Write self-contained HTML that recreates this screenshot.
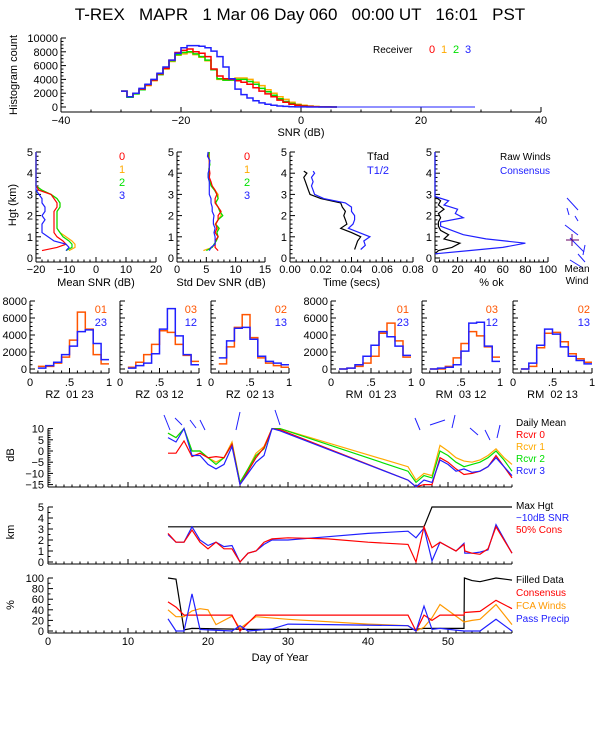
<!DOCTYPE html>
<html><head><meta charset="utf-8"><style>
html,body{margin:0;padding:0;background:#fff;}
svg{display:block;font-family:"Liberation Sans",sans-serif;}
</style></head><body>
<svg id="c" width="600" height="750" viewBox="0 0 600 750" xmlns="http://www.w3.org/2000/svg">
<rect x="0" y="0" width="600" height="750" fill="#fff"/>
</svg>
<script>
// ---------- data ----------
const snrBins=[-30,-29,-28,-27,-26,-25,-24,-23,-22,-21,-20,-19,-18,-17,-16,-15,-14,-13,-12,-11,-10,-9,-8,-7,-6,-5,-4,-3,-2,-1,0,1,2,3,4,5];
const histR0=[2300,1500,2000,2600,3200,3900,4800,5600,6800,7900,8200,8400,8000,7800,7300,5500,4500,4100,4000,3800,3600,3300,2800,2300,1900,1500,1000,700,400,250,150,80,40,20,10,0];
const histR1=[2300,1400,1900,2500,3100,3800,4700,5500,6600,7500,7700,7900,7600,7200,6700,5400,4000,3900,4100,4200,4200,4000,3600,3100,2500,2000,1500,1100,700,400,250,150,80,40,20,10];
const histR2=[2300,1400,1900,2500,3200,3900,4700,5600,6700,7600,7900,8000,7700,7300,6800,5400,4100,3900,3900,4000,4000,3700,3300,2700,2200,1700,1200,800,500,300,180,100,50,20,10,0];
const histR3=[2300,1500,2000,2700,3300,4000,4900,5800,6800,7800,8600,8900,8900,8800,8600,8100,7300,5800,4100,2600,1800,1300,900,600,400,250,150,80,40,20,10,0,0,0,0,0];

const hgt=[0.35,0.5,0.65,0.8,1.0,1.2,1.4,1.6,1.8,2.0,2.2,2.4,2.6,2.8,3.0,3.2,3.4,3.6,3.8,4.0,4.2,4.4,4.6,4.8,5.0];
const meanSnr0=[-18,-13,-10,-11,-13,-14,-14,-14,-14,-14,-14,-13,-13,-14,-15,-19,-20,-20,-20,-20,-20,-20,-20,-20,-20];
const meanSnr1=[-9,-7,-7,-8,-10,-12,-13,-13,-13,-13,-13,-12,-12,-13,-15,-18,-20,-20,-20,-20,-20,-20,-20,-20,-20];
const meanSnr2=[-10,-8,-8,-9,-11,-12,-13,-13,-13,-13,-13,-12,-12,-13,-15,-18,-20,-20,-20,-20,-20,-20,-20,-20,-20];
const meanSnr3=[-10,-9,-10,-14,-16,-18,-18,-18,-17,-18,-17,-17,-18,-18,-19,-20,-20,-20,-20,-20,-20,-20,-20,-20,-20];
const sdSnr0=[7,6.5,6.5,6.5,7,6.5,6.8,6.6,7,7,7.5,7,6.5,6.5,6.8,6.5,6,5.8,5.5,5.6,5.5,5.5,5.5,5.3,5.3];
const sdSnr1=[4.5,6,6.5,6.5,7,6.8,7,6.5,7,7.5,7.5,7,6.5,7,7,6.5,6,5.5,5.5,5.5,5.5,5.5,5.5,5.5,5.5];
const sdSnr2=[5,6,6.3,6.7,7,6.8,7.2,6.6,7,7.8,7.3,7,6.6,7,6.8,6.4,5.8,5.6,5.4,5.5,5.4,5.6,5.5,5.4,5.5];
const sdSnr3=[5.5,5.8,6.5,6.5,6.5,6.3,6.5,6.2,6.2,6.3,6,6,5.8,5.8,5.5,5.5,5.5,5.5,5.3,5.3,5.5,5.5,5.6,5.2,5.3];
const hgtT=[0.4,0.6,0.8,1.0,1.2,1.4,1.6,1.8,2.0,2.2,2.4,2.6,2.8,3.0,3.2,3.4,3.6,3.8,4.0,4.1];
const tfad=[0.042,0.043,0.044,0.046,0.040,0.033,0.037,0.036,0.035,0.036,0.034,0.033,0.020,0.013,0.012,0.011,0.010,0.009,0.011,0.009];
const thalf=[0.046,0.049,0.048,0.052,0.045,0.038,0.041,0.042,0.042,0.040,0.040,0.036,0.022,0.016,0.015,0.014,0.015,0.014,0.016,0.015];
const hgtOk=[0.2,0.35,0.5,0.7,0.9,1.1,1.3,1.5,1.7,1.9,2.1,2.3,2.5,2.7,2.9,3.2,5];
const okRaw=[0,3,15,22,8,12,5,3,3,5,3,8,3,5,0,0,0];
const okCons=[0,30,60,80,45,25,15,5,5,25,18,20,8,12,0,0,0];

const rBinEdges=[0.1,0.2,0.3,0.4,0.5,0.6,0.7,0.8,0.9,1.0];
const rzA=[300,300,700,1400,3400,6700,4700,1700,600];
const rzB=[100,400,800,1700,2700,4400,4600,3000,1100];
const rzC=[200,800,1700,2900,4500,4300,2900,1600,900];
const rzD=[100,400,700,1800,4700,7100,3900,1700,500];
const rzE=[600,2600,4900,6400,3700,1300,700,400,200];
const rzF=[1300,3300,4800,4900,3500,1500,900,700,500];
const rmA=[0,100,300,700,1500,4200,5400,3300,1400];
const rmB=[0,100,500,1500,2800,4400,3800,2700,1600];
const rmC=[0,0,300,1300,3000,4400,3900,2600,1400];
const rmD=[0,100,200,500,2100,5400,5500,2700,900];
const rmE=[0,300,2500,4200,4300,3200,1800,1200,800];
const rmF=[0,700,2800,4700,4100,2600,1500,1000,600];

const daysA=[15,16,17,18,19,20,21,22,23,24,25,26,27,28,29,45,46,47,48,49,50,51,52,53,54,55,56,57,58];
const dm0=[-1,-1,4.5,-2.5,-1,-3,-2.5,-3,3,-15,-9,-3,1.5,10,9.5,-13,-16,-15,-15,-3,-5,-8,-10.5,-10,-9,-7,-2,-7,-12];
const dm1=[8,6,10,0,0,-3,-5,-3,4,-14,-8,-1,2,10,10,-7,-13,-10,-11,2.5,0,-3,-4.5,-5,-4,-2,1,-3,-6];
const dm2=[8,6,10,0,0,-3,-6,-3,3,-14,-8,-2,1,10,10,-9,-14,-11,-12,0,-2,-5,-7,-6,-5,-3,0,-4,-9];
const dm3=[6,4,10,-2,-2,-6,-8,-6,2,-15,-10,-5,-2,10,9,-13,-16,-13,-14,-4,-6,-9,-8,-9.5,-9,-7,-3,-7,-11];
const daysMax=[15,47,48,58];
const maxHgt=[3.2,3.2,5,5];
const daysB=[15,16,17,18,19,20,21,22,23,24,25,26,27,28,30,35,40,45,46,47,48,49,50,51,52,52.1,53,54,55,56,58];
const snr10=[2.5,1.8,1.8,3.2,2,1.5,1.8,1.4,1.5,0,0.8,1,1.6,2,2,2.3,2.6,2.8,2.2,3.1,0.1,1.8,1.4,1,1.7,0.8,0.8,0.9,1.1,3.4,0.8];
const cons50=[2.6,1.8,1.8,2.9,1.8,1.2,1.8,1.2,1.2,0,0.8,1,1.8,2.1,2.2,2.1,1.8,1.6,0,3.2,1.3,1.8,1.4,1.0,1.6,1,0.8,0.7,1.2,3.2,0.8];
const daysFill=[15,16,17,18,25,46,47,52,52.05,53,54,56,58];
const filled=[100,98,2,5,3,3,5,5,100,95,93,100,96];
const daysCons=[15,16,17,23,24,26,45,46,47,48,49,52,52.05,54,56,58];
const consPct=[55,45,30,30,0,30,30,0,30,20,30,30,35,37,58,42];
const daysFca=[15,16,17,18,19,20,21,23,24,26,30,40,45,46,47,48,49,52,53,54,56,58];
const fcaPct=[40,27,27,38,42,40,12,28,5,27,22,13,10,0,7,25,50,17,20,22,50,12];
const daysPp=[15,16,17,18,19,20,23,24,25,28,30,35,45,46,47,48,49,52,54,56,58];
const ppPct=[23,0,0,70,3,2,0,10,0,4,13,12,10,0,47,3,5,0,0,22,0];

// ---------- helpers ----------
const NS="http://www.w3.org/2000/svg";
const svg=document.getElementById('c');
function mk(tag,attrs){const e=document.createElementNS(NS,tag);for(const k in attrs)e.setAttribute(k,attrs[k]);svg.appendChild(e);return e;}
function ln(x1,y1,x2,y2,col,name){const e=mk('line',{x1:x1,y1:y1,x2:x2,y2:y2,stroke:col||'#000','stroke-width':1});


return e;}
function tx(x,y,s,col,anchor,size,name){const e=mk('text',{x:x,y:y,fill:col||'#000','text-anchor':anchor||'middle','font-size':size||11});e.textContent=s;


return e;}
function pl(xs,ys,sx,sy,col,name){const pts=xs.map((v,i)=>sx(v).toFixed(1)+','+sy(ys[i]).toFixed(1)).join(' ');
const e=mk('polyline',{points:pts,fill:'none',stroke:col,'stroke-width':1.2});


return e;}
function step(edges,vals,sx,sy,col,name,w){let d='';for(let i=0;i<vals.length;i++){const x0=sx(edges[i]),x1=sx(edges[i+1]!==undefined?edges[i+1]:edges[i]+(edges[1]-edges[0])),y=sy(vals[i]);d+=(i===0?'M':'L')+x0.toFixed(1)+','+y.toFixed(1)+'L'+x1.toFixed(1)+','+y.toFixed(1);}
const e=mk('path',{d:d,fill:'none',stroke:col,'stroke-width':w||1.5});


return e;}
function lin(d0,d1,p0,p1){return v=>p0+(v-d0)*(p1-p0)/(d1-d0);}
function xAxis(sx,y,vals,labels,minor,name,ly){ln(sx(vals[0]),y,sx(vals[vals.length-1]),y,'#000',name+'-line');
vals.forEach((v,i)=>{ln(sx(v),y,sx(v),y-5,'#000',name+'-tick');if(labels&&labels[i]!=='')tx(sx(v),ly,labels[i],'#000','middle',11,name+'-label');});
if(minor){for(let i=0;i<vals.length-1;i++){for(let k=1;k<minor;k++){const v=vals[i]+(vals[i+1]-vals[i])*k/minor;ln(sx(v),y,sx(v),y-2.5,'#000',name+'-minor-tick');}}}}
function yAxis(sy,x,vals,labels,minor,name,lx){ln(x,sy(vals[0]),x,sy(vals[vals.length-1]),'#000',name+'-line');
vals.forEach((v,i)=>{ln(x,sy(v),x+5,sy(v),'#000',name+'-tick');if(labels)tx(lx,sy(v)+4,labels[i],'#000','end',11,name+'-label');});
if(minor){for(let i=0;i<vals.length-1;i++){for(let k=1;k<minor;k++){const v=vals[i]+(vals[i+1]-vals[i])*k/minor;ln(x,sy(v),x+2.5,sy(v),'#000',name+'-minor-tick');}}}}
function rot(x,y,s,name){const e=tx(x,y,s,'#000','middle',11,name);e.setAttribute('transform','rotate(-90 '+x+' '+y+')');return e;}

// ---------- title ----------
const t=tx(300,20,'T-REX   MAPR   1 Mar 06 Day 060   00:00 UT   16:01   PST','#000','middle',17,'chart-title');
t.setAttribute('xml:space','preserve');t.style.whiteSpace='pre';

// ---------- top histogram ----------
{const sx=lin(-40,40,61,541),sy=lin(0,10000,107,38);
xAxis(sx,112,[-40,-20,0,20,40],['−40','−20','0','20','40'],4,'snr-x-axis',124);
yAxis(v=>sy(v),61,[0,2000,4000,6000,8000,10000],['0','2000','4000','6000','8000','10000'],4,'count-y-axis',58);
ln(61,112,61,sy(0),'#000','count-y-axis-base');
tx(301,136,'SNR (dB)','#000','middle',11,'snr-x-title');
rot(17,75,'Histogram count','count-y-title');
step(snrBins,histR1,sx,sy,'#ffaa00','hist-rcvr1');
step(snrBins,histR2,sx,sy,'#00e000','hist-rcvr2');
step(snrBins,histR0,sx,sy,'#ff0000','hist-rcvr0');
step(snrBins,histR3,sx,sy,'#2020ff','hist-rcvr3');
ln(sx(5),sy(0),sx(29),sy(0),'#2020ff','hist-tail');
tx(373,53,'Receiver','#000','start',10,'receiver-legend-title');
tx(429,53,'0','#ff0000','start',11,'legend-rcvr0');tx(441,53,'1','#ffaa00','start',11,'legend-rcvr1');
tx(453,53,'2','#00e000','start',11,'legend-rcvr2');tx(465,53,'3','#2020ff','start',11,'legend-rcvr3');}

// ---------- profiles ----------
const syH=lin(0,5,258,152);
const hTicks=[0,1,2,3,4,5],hLab=['0','1','2','3','4','5'];
rot(16,205,'Hgt (km)','height-y-title');
function profPanel(x0,x1,d0,d1,ticks,labs,title,name){const sx=lin(d0,d1,x0,x1);
xAxis(sx,262,ticks,labs,5,name+'-x-axis',273);
yAxis(syH,x0,hTicks,hLab,5,name+'-y-axis',x0-3);ln(x0,262,x0,syH(0),'#000',name+'-y-base');
tx((x0+x1)/2,286,title,'#000','middle',11,name+'-x-title');return sx;}
{const sx=profPanel(36,156,-20,20,[-20,-10,0,10,20],['−20','−10','0','10','20'],'Mean SNR (dB)','mean-snr');
pl(meanSnr1,hgt,sx,syH,'#ffaa00','mean-snr-rcvr1');pl(meanSnr2,hgt,sx,syH,'#00e000','mean-snr-rcvr2');
pl(meanSnr0,hgt,sx,syH,'#ff0000','mean-snr-rcvr0');pl(meanSnr3,hgt,sx,syH,'#2020ff','mean-snr-rcvr3');
['0','1','2','3'].forEach((s,i)=>tx(122,160+i*13,s,['#ff0000','#ffaa00','#00e000','#2020ff'][i],'middle',11,'mean-snr-legend-'+s));}
{const sx=profPanel(177,265,0,15,[0,5,10,15],['0','5','10','15'],'Std Dev SNR (dB)','std-snr');
pl(sdSnr1,hgt,sx,syH,'#ffaa00','std-snr-rcvr1');pl(sdSnr2,hgt,sx,syH,'#00e000','std-snr-rcvr2');
pl(sdSnr0,hgt,sx,syH,'#ff0000','std-snr-rcvr0');pl(sdSnr3,hgt,sx,syH,'#2020ff','std-snr-rcvr3');
['0','1','2','3'].forEach((s,i)=>tx(247,160+i*13,s,['#ff0000','#ffaa00','#00e000','#2020ff'][i],'middle',11,'std-snr-legend-'+s));}
{const sx=profPanel(290,413,0,0.08,[0,0.02,0.04,0.06,0.08],['0.00','0.02','0.04','0.06','0.08'],'Time (secs)','time');
pl(tfad,hgtT,sx,syH,'#000','tfad-line');pl(thalf,hgtT,sx,syH,'#2020ff','thalf-line');
tx(367,160,'Tfad','#000','start',11,'time-legend-tfad');tx(367,174,'T1/2','#2020ff','start',11,'time-legend-thalf');}
{const sx=profPanel(435,548,0,100,[0,20,40,60,80,100],['0','20','40','60','80','100'],'% ok','pct-ok');
pl(okRaw,hgtOk,sx,syH,'#000','raw-winds-line');pl(okCons,hgtOk,sx,syH,'#2020ff','consensus-line');
ln(435,syH(3.2),435,syH(5),'#2020ff','consensus-top');
tx(500,160,'Raw Winds','#000','start',10,'legend-raw-winds');tx(500,174,'Consensus','#2020ff','start',10,'legend-consensus');}
// mean wind barbs (decorative)
{const barbs=[[567,198,578,210],[567,208,569,215],[575,216,578,221],[565,225,578,235],[570,238,584,252],[585,245,583,255],[578,254,585,262],[570,260,583,268]];
barbs.forEach(b=>ln(b[0],b[1],b[2],b[3],'#2020ff','mean-wind-barb'));
ln(566,240,579,240,'#660066','mean-wind-mark');ln(572,234,572,246,'#660066','mean-wind-mark');
tx(577,272,'Mean','#000','middle',10,'mean-wind-title');tx(577,284,'Wind','#000','middle',10,'mean-wind-title2');}

// ---------- ratio histograms ----------
{const sy=lin(0,8000,369,301);
const panels=[[30,109,rzA,rzB,'01','23','RZ  01 23',true],[120,199,rzC,rzD,'03','12','RZ  03 12',false],[211,289,rzE,rzF,'02','13','RZ  02 13',false],
[331,411,rmA,rmB,'01','23','RM  01 23',true],[422,500,rmC,rmD,'03','12','RM  03 12',false],[513,592,rmE,rmF,'02','13','RM  02 13',false]];
panels.forEach((p,i)=>{const sx=lin(0,1,p[0],p[1]);const nm='ratio-hist-'+(i+1);
xAxis(sx,373,[0,0.5,1],['0','.5','1'],5,nm+'-x-axis',386);
yAxis(sy,p[0],[0,2000,4000,6000,8000],p[7]?['0','2000','4000','6000','8000']:null,4,nm+'-y-axis',p[0]-3);ln(p[0],373,p[0],sy(0),'#000',nm+'-y-base');
step(rBinEdges,p[2],sx,sy,'#ff5500',nm+'-orange');step(rBinEdges,p[3],sx,sy,'#2020ff',nm+'-blue');
tx(p[1]-2,313,p[4],'#ff5500','end',11,nm+'-legend-a');tx(p[1]-2,326,p[5],'#2020ff','end',11,nm+'-legend-b');
const tt=tx((p[0]+p[1])/2,398,p[6],'#000','middle',11,nm+'-title');tt.style.whiteSpace='pre';});}

// ---------- time series ----------
const sxD=lin(0,58,48,512);
const dTicks=[];for(let d=0;d<=58;d+=1)dTicks.push(d);
function dayAxis(y,name,lab){ln(48,y,512,y,'#000',name+'-line');dTicks.forEach(d=>{ln(sxD(d),y,sxD(d),y-(d%10===0?5:2.5),'#000',name+'-tick');if(lab&&d%10===0)tx(sxD(d),y+12,String(d),'#000','middle',11,name+'-label');});}
{const sy=lin(0,10,451,428.6);
dayAxis(487,'db-x-axis',false);yAxis(sy,48,[-15,-10,-5,0,5,10],['−15','−10','−5','0','5','10'],5,'db-y-axis',44);
ln(48,487,48,sy(-15),'#000','db-y-base');rot(14,455,'dB','db-y-title');
const cl=v=>Math.max(-16,v);
pl(daysA,dm1.map(cl),sxD,sy,'#ffaa00','daily-mean-rcvr1');pl(daysA,dm2.map(cl),sxD,sy,'#00e000','daily-mean-rcvr2');
pl(daysA,dm0.map(cl),sxD,sy,'#ff0000','daily-mean-rcvr0');pl(daysA,dm3.map(cl),sxD,sy,'#2020ff','daily-mean-rcvr3');
[['Daily Mean','#000'],['Rcvr 0','#ff0000'],['Rcvr 1','#ffaa00'],['Rcvr 2','#00e000'],['Rcvr 3','#2020ff']].forEach((l,i)=>tx(516,426+i*12,l[0],l[1],'start',10,'legend-'+l[0].toLowerCase().replace(' ','-')));
const barbs=[[164,415,170,430],[175,418,182,425],[190,420,196,428],[200,420,205,430],[240,412,236,430],[275,410,280,425],[415,418,420,430],[430,425,445,420],[455,415,452,428],[470,428,478,435],[485,430,490,440],[500,425,497,438]];
barbs.forEach(b=>ln(b[0],b[1],b[2],b[3],'#2020ff','wind-barb'));}
{const sy=lin(0,5,562,507);
dayAxis(564,'km-x-axis',false);yAxis(sy,48,[0,1,2,3,4,5],['0','1','2','3','4','5'],2,'km-y-axis',44);
ln(48,564,48,sy(0),'#000','km-y-base');rot(14,532,'km','km-y-title');
pl(daysMax,maxHgt,sxD,sy,'#000','max-hgt-line');pl(daysB,snr10,sxD,sy,'#2020ff','snr-10db-line');pl(daysB,cons50,sxD,sy,'#ff0000','cons-50-line');
[['Max Hgt','#000'],['−10dB SNR','#2020ff'],['50% Cons','#ff0000']].forEach((l,i)=>tx(516,509+i*12,l[0],l[1],'start',10,'legend-km-'+i));}
{const sy=lin(0,100,631,578);
dayAxis(633,'pct-x-axis',true);yAxis(sy,48,[0,20,40,60,80,100],['0','20','40','60','80','100'],2,'pct-y-axis',44);
ln(48,633,48,sy(0),'#000','pct-y-base');rot(14,605,'%','pct-y-title');
tx(280,661,'Day of Year','#000','middle',11,'day-x-title');
pl(daysFill,filled,sxD,sy,'#000','filled-data-line');pl(daysFca,fcaPct,sxD,sy,'#ff9900','fca-winds-line');
pl(daysCons,consPct,sxD,sy,'#ff0000','consensus-pct-line');pl(daysPp,ppPct,sxD,sy,'#2020ff','pass-precip-line');
[['Filled Data','#000'],['Consensus','#ff0000'],['FCA Winds','#ff9900'],['Pass Precip','#2020ff']].forEach((l,i)=>tx(516,583+i*13,l[0],l[1],'start',10,'legend-pct-'+i));}
</script>
</body></html>
